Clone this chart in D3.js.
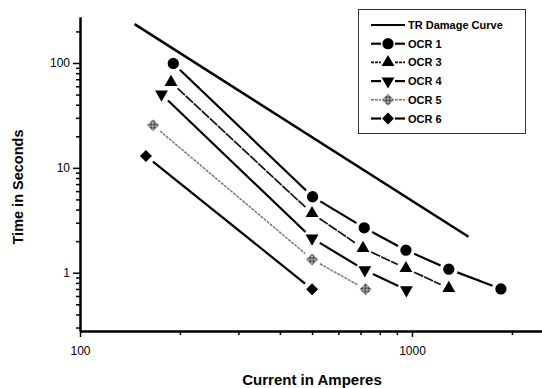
<!DOCTYPE html>
<html>
<head>
<meta charset="utf-8">
<script src="https://cdn.jsdelivr.net/npm/d3@7"></script>
<style>
  body { margin: 0; background: #fff; }
  svg { display: block; font-family: "Liberation Sans", Arial, sans-serif; }
</style>
</head>
<body>
<div id="chart"></div>
<script>
// values
var trCurrent = [146, 1480];
var trTime = [235, 2.2];

var ocr1Current = [191, 502, 718, 959, 1291, 1853];
var ocr1Time = [99, 5.3, 2.68, 1.64, 1.08, 0.70];

var ocr3Current = [188, 500, 712, 959, 1291];
var ocr3Time = [65.5, 3.68, 1.71, 1.10, 0.71];

var ocr4Current = [176, 500, 721, 962];
var ocr4Time = [50.3, 2.13, 1.06, 0.684];

var ocr5Current = [166, 500, 725];
var ocr5Time = [25.5, 1.34, 0.695];

var ocr6Current = [158, 500];
var ocr6Time = [13.0, 0.695];

var seriesNames = ["TR Damage Curve", "OCR 1", "OCR 3", "OCR 4", "OCR 5", "OCR 6"];
var xTickLabels = [100, 1000];
var yTickLabels = [1, 10, 100];

var width = 542, height = 388;
var svg = d3.select("#chart").append("svg")
    .attr("width", width)
    .attr("height", height);

var x = d3.scaleLog().domain([100, 2464]).range([80, 542]);
var y = d3.scaleLog().domain([0.278, 274.6]).range([331, 17]);

// checker pattern for OCR 5 marker
var pat = svg.append("defs").append("pattern")
    .attr("id", "checker")
    .attr("width", 2).attr("height", 2)
    .attr("patternUnits", "userSpaceOnUse");
pat.append("rect").attr("width", 2).attr("height", 2).attr("fill", "#d0d0d0");
pat.append("rect").attr("width", 1).attr("height", 1).attr("fill", "#222");
pat.append("rect").attr("x", 1).attr("y", 1).attr("width", 1).attr("height", 1).attr("fill", "#222");

// series setup
var series = [
  {name: seriesNames[0], xs: trCurrent, ys: trTime, sym: null, stroke: "#000", sw: 2.5, dash: null, gap: 0},
  {name: seriesNames[1], xs: ocr1Current, ys: ocr1Time, sym: "circle", stroke: "#000", sw: 2.2, dash: null, gap: 9, fill: "#000"},
  {name: seriesNames[2], xs: ocr3Current, ys: ocr3Time, sym: "up", stroke: "#111", sw: 1.7, dash: "10,1", gap: 9, fill: "#000"},
  {name: seriesNames[3], xs: ocr4Current, ys: ocr4Time, sym: "down", stroke: "#000", sw: 2.2, dash: null, gap: 9, fill: "#000"},
  {name: seriesNames[4], xs: ocr5Current, ys: ocr5Time, sym: "diamond", stroke: "#777", sw: 1.5, dash: "3,1", gap: 9, fill: "url(#checker)"},
  {name: seriesNames[5], xs: ocr6Current, ys: ocr6Time, sym: "diamond", stroke: "#000", sw: 2.2, dash: null, gap: 9, fill: "#000"}
];

function symbolPath(kind) {
  if (kind == "circle") return d3.symbol(d3.symbolCircle, 100)();
  if (kind == "up" || kind == "down") return d3.symbol(d3.symbolTriangle, 72)();
  if (kind == "diamond") return d3.symbol(d3.symbolSquare, 72)();
  return null;
}
function symbolRotate(kind) {
  if (kind == "down") return 180;
  if (kind == "diamond") return 45;
  return 0;
}

// shorten segments so they stop short of the markers
function segments(s) {
  var out = [];
  for (var i = 0; i < s.xs.length - 1; i++) {
    var x1 = x(s.xs[i]), y1 = y(s.ys[i]), x2 = x(s.xs[i+1]), y2 = y(s.ys[i+1]);
    var len = Math.sqrt((x2-x1)*(x2-x1) + (y2-y1)*(y2-y1));
    var ux = (x2-x1)/len, uy = (y2-y1)/len;
    out.push([x1 + ux*s.gap, y1 + uy*s.gap, x2 - ux*s.gap, y2 - uy*s.gap]);
  }
  return out;
}

var plot = svg.append("g").attr("class", "series");

series.forEach(function(s) {
  var g = plot.append("g");
  g.selectAll("line").data(segments(s)).enter().append("line")
    .attr("x1", function(d) { return d[0]; })
    .attr("y1", function(d) { return d[1]; })
    .attr("x2", function(d) { return d[2]; })
    .attr("y2", function(d) { return d[3]; })
    .attr("stroke", s.stroke)
    .attr("stroke-width", s.sw)
    .attr("stroke-dasharray", s.dash);
  if (s.sym) {
    g.selectAll("path").data(d3.zip(s.xs, s.ys)).enter().append("path")
      .attr("d", symbolPath(s.sym))
      .attr("fill", s.fill)
      .attr("transform", function(d) {
        return "translate(" + x(d[0]) + "," + y(d[1]) + ") rotate(" + symbolRotate(s.sym) + ")";
      });
  }
});

// minor tick values
var yMinor = [], xMinor = [];
[0.1, 1, 10, 100].forEach(function(dec) {
  for (var k = 2; k <= 9; k++) {
    var v = dec * k;
    if (v >= 0.278 && v <= 274.6) yMinor.push(v);
  }
});
[100, 1000].forEach(function(dec) {
  for (var k = 2; k <= 9; k++) {
    var v = dec * k;
    if (v <= 2464) xMinor.push(v);
  }
});

// y axis
var yAxisG = svg.append("g").attr("transform", "translate(80,0)");
yAxisG.append("g")
  .call(d3.axisLeft(y).tickValues(yMinor).tickSize(4).tickSizeOuter(0).tickFormat(""));
yAxisG.append("g")
  .call(d3.axisLeft(y).tickValues(yTickLabels).tickSize(7).tickSizeOuter(0).tickPadding(3)
        .tickFormat(d3.format("d")));

// x axis
var xAxisG = svg.append("g").attr("transform", "translate(0,331)");
xAxisG.append("g")
  .call(d3.axisBottom(x).tickValues(xMinor).tickSize(4).tickSizeOuter(0).tickFormat(""));
xAxisG.append("g")
  .call(d3.axisBottom(x).tickValues(xTickLabels).tickSize(6).tickSizeOuter(0).tickPadding(9)
        .tickFormat(d3.format("d")));

svg.selectAll(".domain").attr("stroke", "#000").attr("stroke-width", 2);
svg.selectAll(".tick line").attr("stroke", "#000").attr("stroke-width", 1.5);
svg.selectAll(".tick text").attr("fill", "#000").style("font-size", "12px")
   .style("font-family", "'Liberation Sans', Arial, sans-serif");

// axis titles
svg.append("text")
  .attr("transform", "translate(23,187) rotate(-90)")
  .attr("text-anchor", "middle")
  .style("font-size", "14.5px").style("font-weight", "bold")
  .text("Time in Seconds");

svg.append("text")
  .attr("x", 312).attr("y", 385)
  .attr("text-anchor", "middle")
  .style("font-size", "15px").style("font-weight", "bold")
  .text("Current in Amperes");

// legend
var legend = svg.append("g").attr("class", "legend");
legend.append("rect")
  .attr("x", 358.5).attr("y", 9.5).attr("width", 167).attr("height", 124)
  .attr("fill", "#fff").attr("stroke", "#333").attr("stroke-width", 1);

var rows = legend.selectAll("g.row").data(series).enter().append("g")
  .attr("class", "row")
  .attr("transform", function(d, i) { return "translate(0," + (25 + 18.7*i) + ")"; });

rows.each(function(s) {
  var r = d3.select(this);
  if (s.sym) {
    r.append("line").attr("x1", 371).attr("x2", 381).attr("y1", 0).attr("y2", 0)
      .attr("stroke", s.stroke).attr("stroke-width", s.sw).attr("stroke-dasharray", s.dash ? "3,1" : null);
    r.append("line").attr("x1", 395).attr("x2", 405).attr("y1", 0).attr("y2", 0)
      .attr("stroke", s.stroke).attr("stroke-width", s.sw).attr("stroke-dasharray", s.dash ? "3,1" : null);
    r.append("path").attr("d", symbolPath(s.sym)).attr("fill", s.fill)
      .attr("transform", "translate(388,0) rotate(" + symbolRotate(s.sym) + ")");
  } else {
    r.append("line").attr("x1", 371).attr("x2", 405).attr("y1", 0).attr("y2", 0)
      .attr("stroke", s.stroke).attr("stroke-width", 2.2);
  }
  r.append("text").attr("x", 408).attr("y", 4)
    .style("font-size", "11px").style("font-weight", "bold")
    .text(s.name);
});
</script>
</body>
</html>
